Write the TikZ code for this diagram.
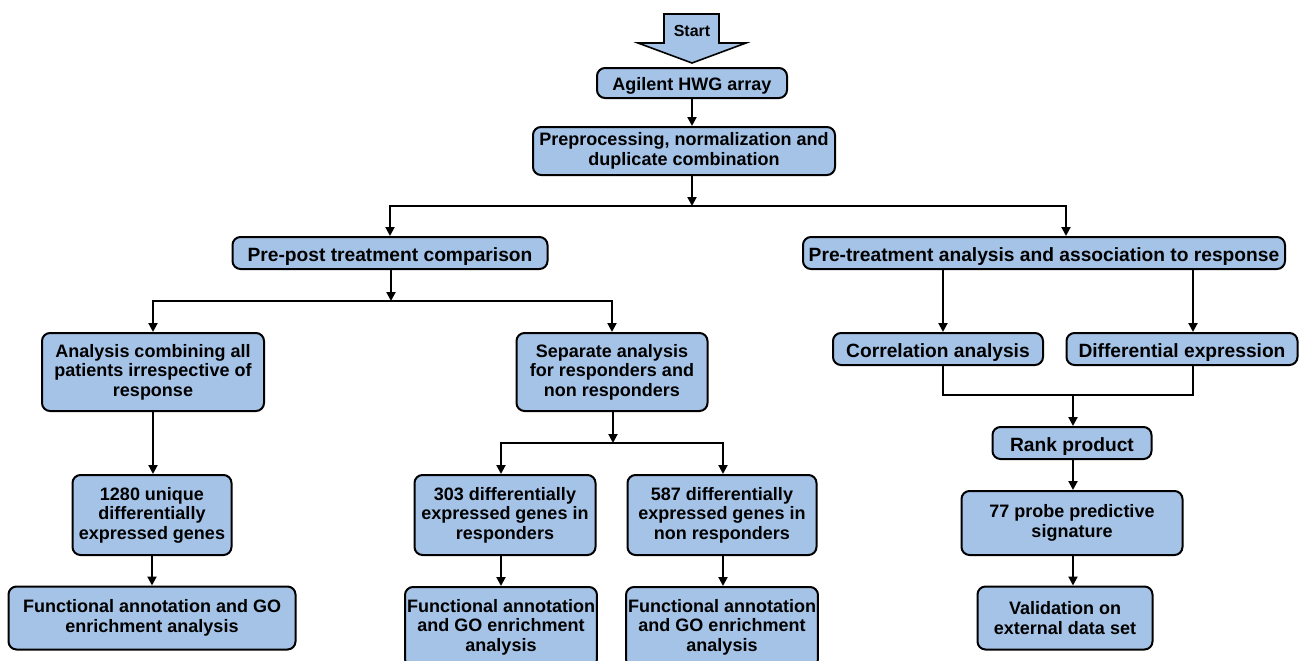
\documentclass[tikz,border=0pt]{standalone}
\usepackage{fontspec}
\setmainfont{Liberation Sans}
\usetikzlibrary{arrows.meta}
\definecolor{boxblue}{RGB}{164,195,231}

\begin{document}
\begin{tikzpicture}[x=0.5pt,y=-0.5pt,>={Triangle[length=4.5pt,width=4.5pt]},
  box/.style={draw,line width=1pt,rounded corners=4pt,fill=boxblue,align=center,inner sep=1pt,
    font=\bfseries\fontsize{9}{9.8}\selectfont},
  oneline/.style={box,text height=8.9pt,text depth=0pt,font=\bfseries\fontsize{9.6}{10}\selectfont},
  link/.style={line width=1pt}]
\useasboundingbox (0,0) rectangle (1314,660);
\filldraw[fill=boxblue,line width=0.8pt] (664,14)--(719,14)--(719,43)--(746,43)--(692,63)--(638,43)--(664,43)--cycle;
\node (start) at (692,31) [font=\bfseries\fontsize{8}{9}\selectfont] {Start};
\node (agilent) at (692,83) [oneline,font=\bfseries\fontsize{9}{10}\selectfont,text height=7.6pt,minimum width=95pt,minimum height=15pt] {Agilent HWG array};
\node (prep) at (684,151) [box,minimum width=151pt,minimum height=24pt] {Preprocessing, normalization and\\duplicate combination};
\node (prepost) at (390,253) [oneline,minimum width=157.5pt,minimum height=16pt] {Pre-post treatment comparison};
\node (pretreat) at (1044,253) [oneline,minimum width=241pt,minimum height=16pt] {Pre-treatment analysis and association to response};
\node (combine) at (153,372) [box,minimum width=111pt,minimum height=39pt] {Analysis combining all\\patients irrespective of\\response};
\node (separate) at (612,372) [box,minimum width=95.5pt,minimum height=39pt] {Separate analysis\\for responders and\\non responders};
\node (corr) at (938,349) [oneline,minimum width=105pt,minimum height=16pt] {Correlation analysis};
\node (diff) at (1182,349) [oneline,minimum width=115.5pt,minimum height=16pt] {Differential expression};
\node (unique) at (152,515) [box,minimum width=79.5pt,minimum height=40pt] {1280 unique\\differentially\\expressed genes};
\node (resp) at (505,515) [box,minimum width=90.5pt,minimum height=40pt] {303 differentially\\expressed genes in\\responders};
\node (nonresp) at (722,515) [box,minimum width=94.5pt,minimum height=40pt] {587 differentially\\expressed genes in\\non responders};
\node (rank) at (1072,443) [oneline,minimum width=79.5pt,minimum height=16pt] {Rank product};
\node (probe) at (1072,523) [box,minimum width=110.5pt,minimum height=32pt] {77 probe predictive\\signature};
\node (func1) at (152,618) [box,minimum width=143.5pt,minimum height=31.5pt] {Functional annotation and GO\\enrichment analysis};
\node (func2) at (501,627) [box,minimum width=94.5pt,minimum height=40pt] {Functional annotation\\and GO enrichment\\analysis};
\node (func3) at (722,627) [box,minimum width=94.5pt,minimum height=40pt] {Functional annotation\\and GO enrichment\\analysis};
\node (valid) at (1065,618) [box,minimum width=87.5pt,minimum height=31.5pt] {Validation on\\external data set};
\coordinate (b1) at (692,206);
\coordinate (b1r) at (1066,206);
\coordinate (b2) at (391,301);
\coordinate (b3) at (613,443);
\coordinate (b3l) at (501,443);
\coordinate (b3r) at (723,443);
\coordinate (c1) at (943,395);
\coordinate (c2) at (1193,395);
\coordinate (c3) at (1073,395);
\draw[link,->] (agilent.south -| b1) -- (b1 |- prep.north);
\draw[link,->] (prep.south -| b1) -- (b1);
\draw[link,->] (b1) -| (prepost.north);
\draw[link,->] (b1) -- (b1r) -- (b1r |- pretreat.north);
\draw[link,->] (prepost.south -| b2) -- (b2);
\draw[link,->] (b2) -| (combine.north);
\draw[link,->] (b2) -| (separate.north);
\draw[link,->] (combine.south) -- (combine.south |- unique.north);
\draw[link,->] (unique.south) -- (unique.south |- func1.north);
\draw[link,->] (separate.south -| b3) -- (b3);
\draw[link,->] (b3) -- (b3l) -- (b3l |- resp.north);
\draw[link,->] (b3) -- (b3r) -- (b3r |- nonresp.north);
\draw[link,->] (b3l |- resp.south) -- (b3l |- func2.north);
\draw[link,->] (b3r |- nonresp.south) -- (b3r |- func3.north);
\draw[link,->] (c1 |- pretreat.south) -- (c1 |- corr.north);
\draw[link,->] (c2 |- pretreat.south) -- (c2 |- diff.north);
\draw[link] (c1 |- corr.south) -- (c1) -- (c2) -- (c2 |- diff.south);
\draw[link,->] (c3) -- (c3 |- rank.north);
\draw[link,->] (c3 |- rank.south) -- (c3 |- probe.north);
\draw[link,->] (c3 |- probe.south) -- (c3 |- valid.north);
\end{tikzpicture}
\end{document}
